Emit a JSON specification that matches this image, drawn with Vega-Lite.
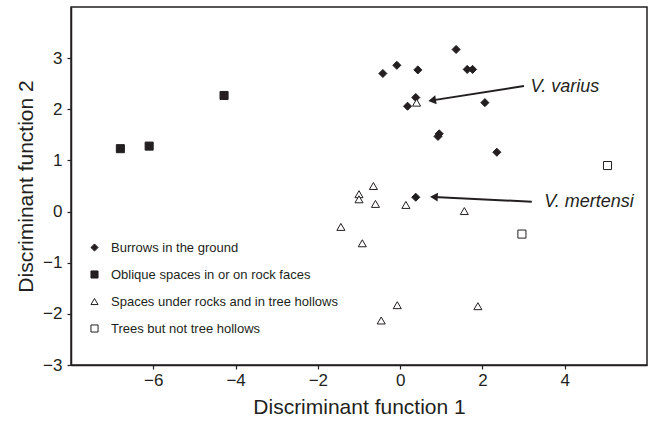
{
  "$schema": "https://vega.github.io/schema/vega-lite/v6.json",
  "width": 576,
  "height": 358,
  "autosize": {"type": "none"},
  "padding": {"left": 71, "top": 7, "right": 6, "bottom": 61},
  "background": "white",
  "config": {
    "view": {"stroke": "#231f20", "strokeWidth": 1.5},
    "font": "Liberation Sans",
    "axis": {"grid": false, "domainColor": "#231f20", "domainWidth": 1.5, "tickColor": "#231f20", "tickWidth": 1.2, "tickSize": 4, "labelColor": "#231f20", "titleColor": "#231f20", "labelFont": "Liberation Sans", "titleFont": "Liberation Sans", "labelFontSize": 17, "titleFontSize": 21, "titleFontWeight": "normal"}
  },
  "datasets": {
    "pts": [
      {"f1": 1.36, "f2": 3.17, "site": "Burrows in the ground"},
      {"f1": -0.08, "f2": 2.86, "site": "Burrows in the ground"},
      {"f1": -0.42, "f2": 2.70, "site": "Burrows in the ground"},
      {"f1": 0.43, "f2": 2.77, "site": "Burrows in the ground"},
      {"f1": 1.63, "f2": 2.78, "site": "Burrows in the ground"},
      {"f1": 1.76, "f2": 2.78, "site": "Burrows in the ground"},
      {"f1": 0.38, "f2": 2.23, "site": "Burrows in the ground"},
      {"f1": 0.18, "f2": 2.06, "site": "Burrows in the ground"},
      {"f1": 2.06, "f2": 2.13, "site": "Burrows in the ground"},
      {"f1": 0.92, "f2": 1.47, "site": "Burrows in the ground"},
      {"f1": 0.95, "f2": 1.52, "site": "Burrows in the ground"},
      {"f1": 2.35, "f2": 1.16, "site": "Burrows in the ground"},
      {"f1": 0.38, "f2": 0.28, "site": "Burrows in the ground"},
      {"f1": -6.80, "f2": 1.23, "site": "Oblique spaces in or on rock faces"},
      {"f1": -6.10, "f2": 1.28, "site": "Oblique spaces in or on rock faces"},
      {"f1": -4.28, "f2": 2.27, "site": "Oblique spaces in or on rock faces"},
      {"f1": 0.40, "f2": 2.13, "site": "Spaces under rocks and in tree hollows"},
      {"f1": -0.65, "f2": 0.50, "site": "Spaces under rocks and in tree hollows"},
      {"f1": -1.0, "f2": 0.34, "site": "Spaces under rocks and in tree hollows"},
      {"f1": -1.0, "f2": 0.24, "site": "Spaces under rocks and in tree hollows"},
      {"f1": -0.60, "f2": 0.15, "site": "Spaces under rocks and in tree hollows"},
      {"f1": 0.14, "f2": 0.13, "site": "Spaces under rocks and in tree hollows"},
      {"f1": 1.56, "f2": 0.01, "site": "Spaces under rocks and in tree hollows"},
      {"f1": -1.44, "f2": -0.30, "site": "Spaces under rocks and in tree hollows"},
      {"f1": -0.92, "f2": -0.62, "site": "Spaces under rocks and in tree hollows"},
      {"f1": -0.07, "f2": -1.83, "site": "Spaces under rocks and in tree hollows"},
      {"f1": 1.89, "f2": -1.85, "site": "Spaces under rocks and in tree hollows"},
      {"f1": -0.46, "f2": -2.13, "site": "Spaces under rocks and in tree hollows"},
      {"f1": 2.96, "f2": -0.44, "site": "Trees but not tree hollows"},
      {"f1": 5.04, "f2": 0.90, "site": "Trees but not tree hollows"}
    ],
    "arrows": [
      {"x": 3.01, "y": 2.455, "hx": 0.777, "hy": 2.174, "angle": 261, "label": "V. varius", "lx": 3.17, "ly": 2.44},
      {"x": 3.20, "y": 0.193, "hx": 0.821, "hy": 0.287, "angle": 273, "label": "V. mertensi", "lx": 3.50, "ly": 0.19}
    ]
  },
  "encoding": {
    "x": {"type": "quantitative", "scale": {"domain": [-8, 6], "nice": false, "zero": false}, "axis": {"values": [-6, -4, -2, 0, 2, 4], "title": "Discriminant function 1", "labelPadding": 3, "titlePadding": 8}},
    "y": {"type": "quantitative", "scale": {"domain": [-3, 4], "nice": false, "zero": false}, "axis": {"values": [-3, -2, -1, 0, 1, 2, 3], "title": "Discriminant function 2", "labelPadding": 5, "titlePadding": 6}}
  },
  "layer": [
    {
      "data": {"name": "arrows"},
      "mark": {"type": "rule", "color": "#231f20", "strokeWidth": 2},
      "encoding": {"x": {"field": "x", "type": "quantitative"}, "y": {"field": "y", "type": "quantitative"}, "x2": {"field": "hx"}, "y2": {"field": "hy"}}
    },
    {
      "data": {"name": "arrows"},
      "mark": {"type": "point", "shape": "triangle-up", "filled": true, "color": "#231f20", "size": 80, "opacity": 1},
      "encoding": {"x": {"field": "hx", "type": "quantitative"}, "y": {"field": "hy", "type": "quantitative"}, "angle": {"field": "angle", "type": "quantitative", "scale": null}}
    },
    {
      "data": {"name": "arrows"},
      "mark": {"type": "text", "align": "left", "baseline": "middle", "fontSize": 18, "fontStyle": "italic", "color": "#231f20"},
      "encoding": {"x": {"field": "lx", "type": "quantitative"}, "y": {"field": "ly", "type": "quantitative"}, "text": {"field": "label"}}
    },
    {
      "data": {"name": "pts"},
      "mark": {"type": "point", "filled": true, "stroke": "#231f20", "strokeWidth": 1, "size": 65, "opacity": 1},
      "encoding": {
        "x": {"field": "f1", "type": "quantitative"},
        "y": {"field": "f2", "type": "quantitative"},
        "shape": {"field": "site", "type": "nominal", "scale": {"domain": ["Burrows in the ground", "Oblique spaces in or on rock faces", "Spaces under rocks and in tree hollows", "Trees but not tree hollows"], "range": ["diamond", "square", "triangle-up", "square"]}, "legend": {"title": null, "orient": "none", "legendX": 17, "legendY": 234, "padding": 0, "rowPadding": 13, "labelFontSize": 13, "labelLimit": 0, "labelFont": "Liberation Sans", "labelColor": "#231f20", "labelOffset": 10, "symbolStrokeColor": "#231f20", "symbolStrokeWidth": 1, "symbolSize": 50}},
        "color": {"field": "site", "type": "nominal", "scale": {"domain": ["Burrows in the ground", "Oblique spaces in or on rock faces", "Spaces under rocks and in tree hollows", "Trees but not tree hollows"], "range": ["#231f20", "#231f20", "white", "white"]}, "legend": {"title": null, "orient": "none", "legendX": 17, "legendY": 234, "padding": 0, "rowPadding": 13, "labelFontSize": 13, "labelLimit": 0, "labelFont": "Liberation Sans", "labelColor": "#231f20", "labelOffset": 10, "symbolStrokeColor": "#231f20", "symbolStrokeWidth": 1, "symbolSize": 50}}
      }
    }
  ]
}
